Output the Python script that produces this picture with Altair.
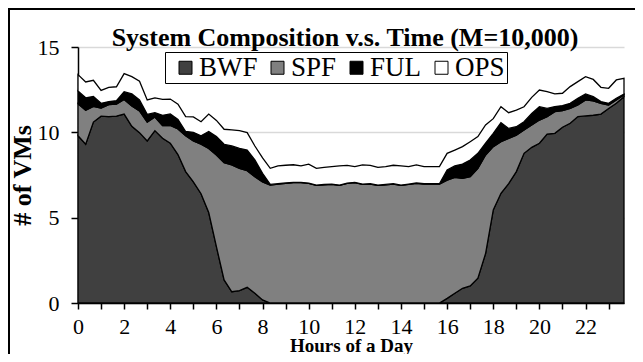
import altair as alt
import pandas as pd

# 20-minute samples over a day (72 samples)
hours = [i / 3 for i in range(72)]

bwf = [9.8, 9.3, 10.6, 10.95, 10.92, 10.95, 11.07, 10.35, 9.98, 9.5,
       10.1, 9.65, 9.36, 8.7, 7.7, 7.1, 6.4, 5.3, 3.3, 1.35,
       0.66, 0.72, 0.92, 0.57, 0.18,
       0, 0, 0, 0, 0, 0, 0, 0, 0, 0,
       0, 0, 0, 0, 0, 0, 0, 0, 0, 0,
       0, 0, 0,
       0.27, 0.57, 0.86, 1.0, 1.45, 2.9, 5.45, 6.43, 7.0, 7.7,
       8.77, 9.12, 9.36, 9.9, 9.94, 10.3, 10.53, 10.92, 10.96, 11.0,
       11.07, 11.4, 11.7, 12.09]

spf = [1.88, 2.0, 0.92, 0.47, 0.7, 0.7, 0.85, 1.2, 1.27, 1.1,
       0.8, 0.75, 1.04, 1.5, 2.1, 2.4, 2.9, 3.75, 5.37, 6.87,
       7.43, 7.17, 6.83, 6.83, 6.92,
       6.91, 6.97, 7.01, 7.05, 7.05, 7.01, 6.89, 6.93, 6.95, 6.89,
       7.01, 7.05, 6.95, 6.97, 6.89, 6.93, 6.97, 6.89, 6.95, 7.01,
       6.97, 6.97, 6.97,
       6.93, 6.79, 6.44, 6.4, 6.44, 5.77, 3.71, 3.02, 2.65, 2.14,
       1.37, 1.31, 1.36, 1.02, 1.27, 0.97, 0.87, 0.68, 0.94, 0.85,
       0.63, 0.2, 0.19, 0.1]

ful = [0.74, 0.72, 0.58, 0.28, 0.18, 0.2, 0.46, 0.7, 0.65, 0.45,
       0.25, 0.6, 0.68, 0.55, 0.25, 0.5, 0.5, 1.0, 1.08, 1.08,
       1.11, 1.17, 1.21, 0.98, 0.5,
       0.04, 0.02, 0.02, 0.02, 0.02, 0.02, 0.02, 0.02, 0.02, 0.02,
       0.02, 0.02, 0.02, 0.02, 0.02, 0.02, 0.02, 0.02, 0.02, 0.02,
       0.02, 0.02, 0.02,
       0.59, 0.67, 0.84, 0.98, 0.88, 0.69, 0.78, 1.12, 0.58, 0.49,
       0.48, 0.68, 0.78, 0.48, 0.3, 0.3, 0.3, 0.4, 0.35, 0.24,
       0.1, 0.1, 0.11, 0.05]

ops = [0.96, 0.93, 0.95, 0.76, 0.84, 0.82, 1.06, 1.01, 1.1, 0.85,
       0.87, 0.93, 0.87, 0.9, 0.87, 0.9, 0.82, 1.02, 0.95, 0.88,
       0.94, 1.04, 1.02, 0.82, 0.9,
       0.94, 1.04, 1.04, 1.03, 0.96, 1.11, 0.98, 1.0, 1.02, 1.12,
       1.03, 0.92, 1.12, 1.08, 1.04, 1.04, 1.08, 1.12, 1.02, 1.06,
       1.0, 1.0, 1.0,
       0.98, 0.93, 1.02, 1.07, 0.98, 1.07, 0.86, 0.93, 0.92, 0.97,
       0.88, 0.94, 0.98, 0.98, 0.74, 0.72, 0.98, 0.97, 1.01, 1.01,
       0.84, 0.88, 1.07, 0.92]

series = ["BWF", "SPF", "FUL", "OPS"]
colors = ["#404040", "#808080", "#000000", "#ffffff"]
x_ticks = list(range(24))
y_ticks = [0, 5, 10, 15]

rows = []
for k, (name, vals) in enumerate(zip(series, [bwf, spf, ful, ops])):
    for h, v in zip(hours, vals):
        rows.append({"hour": h, "vms": v, "series": name, "ord": k})
df = pd.DataFrame(rows)

FONT = "Liberation Serif"

area = alt.Chart(df).mark_area(
    stroke="black", strokeWidth=1.3, interpolate="linear"
).encode(
    x=alt.X(
        "hour:Q",
        scale=alt.Scale(domain=[0, hours[-1]], nice=False, zero=False),
        axis=alt.Axis(
            values=x_ticks,
            labelExpr="datum.value % 2 == 0 ? datum.label : ''",
            title="Hours of a Day",
            grid=False,
            domainColor="black", domainWidth=1.5,
            tickColor="black", tickSize=6, tickWidth=1.5,
            labelFont=FONT, labelFontSize=22, labelColor="black",
            labelPadding=7, labelFlush=False, labelOverlap=False,
            titleFont=FONT, titleFontSize=19, titleFontWeight="bold",
            titleColor="black", titleBaseline="alphabetic", titleY=48,
        ),
    ),
    y=alt.Y(
        "vms:Q",
        stack="zero",
        scale=alt.Scale(domain=[0, 15], nice=False),
        axis=alt.Axis(
            values=y_ticks,
            title="# of VMs",
            grid=True, gridColor="#d9d9d9", gridWidth=1.5,
            domainColor="black", domainWidth=1.5,
            tickColor="black", tickSize=7, tickWidth=1.5,
            labelFont=FONT, labelFontSize=22, labelColor="black",
            labelPadding=12,
            titleFont=FONT, titleFontSize=26, titleFontWeight="bold",
            titleColor="black", titlePadding=2,
        ),
    ),
    color=alt.Color(
        "series:N",
        scale=alt.Scale(domain=series, range=colors),
        legend=alt.Legend(
            title=None, orient="none", legendX=87, legendY=5,
            direction="horizontal", columns=4,
            symbolType="square", symbolSize=169,
            symbolStrokeColor="black", symbolStrokeWidth=1,
            symbolOffset=5, columnPadding=1, labelOffset=0,
            labelFont=FONT, labelFontSize=27, labelColor="black",
            strokeColor="black", fillColor="white", padding=2,
        ),
    ),
    order=alt.Order("ord:Q"),
)

border = alt.Chart(pd.DataFrame({"a": [0]})).mark_rect(
    fillOpacity=0, stroke="black", strokeWidth=2
).encode(
    x=alt.value(-69), x2=alt.value(620), y=alt.value(-38), y2=alt.value(400)
)

chart = alt.layer(area, border).properties(
    width=546,
    height=256,
    autosize=alt.AutoSizeParams(type="none"),
    padding={"left": 70, "top": 39, "right": 11, "bottom": 51},
    title=alt.TitleParams(
        "System Composition v.s. Time (M=10,000)",
        font=FONT, fontSize=26, fontWeight="bold", color="black",
        anchor="middle", frame="group", baseline="alphabetic",
        offset=0, dx=-6, dy=64,
    ),
).configure_view(stroke=None)

chart.save("out.html", embed_options={"renderer": "svg", "actions": False})
